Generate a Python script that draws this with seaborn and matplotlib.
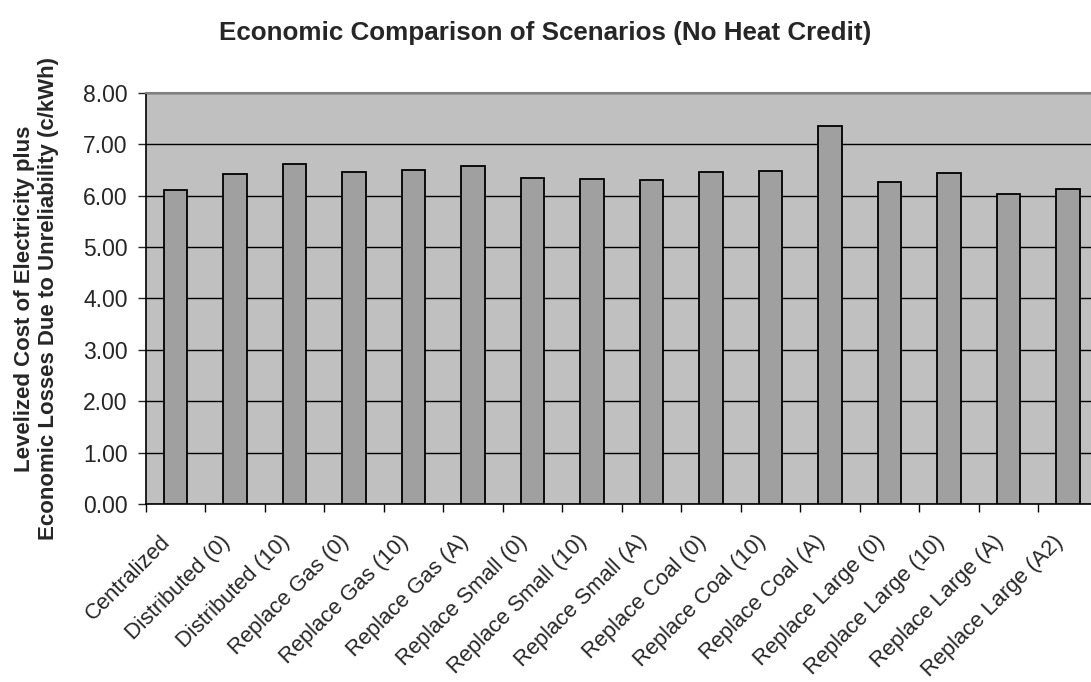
import matplotlib
matplotlib.use("Agg")
import matplotlib.pyplot as plt
from matplotlib.ticker import FixedLocator
from matplotlib.transforms import ScaledTranslation
import seaborn as sns
import pandas as pd
import numpy as np

scenarios = [
    "Centralized", "Distributed (0)", "Distributed (10)",
    "Replace Gas (0)", "Replace Gas (10)", "Replace Gas (A)",
    "Replace Small (0)", "Replace Small (10)", "Replace Small (A)",
    "Replace Coal (0)", "Replace Coal (10)", "Replace Coal (A)",
    "Replace Large (0)", "Replace Large (10)", "Replace Large (A)",
    "Replace Large (A2)",
]
cost = [6.10, 6.42, 6.61, 6.46, 6.49, 6.57, 6.35, 6.33, 6.30,
        6.45, 6.47, 7.35, 6.27, 6.43, 6.03, 6.12]
y_ticks = [0, 1, 2, 3, 4, 5, 6, 7, 8]

df = pd.DataFrame({"Scenario": scenarios, "Cost": cost})

sns.set_style("ticks")
plt.rcParams["font.family"] = ["Liberation Sans", "DejaVu Sans"]

W, H, DPI = 1091, 682, 100
fig = plt.figure(figsize=(W / DPI, H / DPI), dpi=DPI)
left, right, top, bottom = 145.7, 1097.7, 92.7, 504.0
ax = fig.add_axes([left / W, 1 - bottom / H, (right - left) / W, (bottom - top) / H])
ax.set_facecolor("#C0C0C0")

sns.barplot(data=df, x="Scenario", y="Cost", ax=ax, color="#A0A0A0",
            saturation=1, width=0.4, edgecolor="black", linewidth=1.3, zorder=3)

ax.set_xlim(-0.5, len(scenarios) - 0.5)
ax.set_ylim(0, 8)
ax.yaxis.set_major_locator(FixedLocator(y_ticks))
ax.set_yticklabels([f"{v:.2f}" for v in y_ticks])
ax.grid(axis="y", color="black", linewidth=1.0, zorder=1)
ax.set_axisbelow(True)

# x ticks sit at category boundaries, labels at the category centres
ax.set_xticks(np.arange(len(scenarios)))
ax.set_xticklabels(scenarios, rotation=45, ha="right", va="center",
                   rotation_mode="anchor", fontsize=15.8)
ax.tick_params(axis="x", length=0, pad=25)
shift = ScaledTranslation(-8 / DPI, 0, fig.dpi_scale_trans)
for lbl in ax.get_xticklabels():
    lbl.set_transform(lbl.get_transform() + shift)
ax.set_xticks(np.arange(-0.5, len(scenarios), 1), minor=True)
ax.tick_params(axis="x", which="minor", length=6, width=1, color="black", direction="out")
ax.tick_params(axis="y", length=6, width=1, labelsize=16.5, direction="out", pad=7)

ax.spines["top"].set_visible(True)
ax.spines["right"].set_visible(True)
ax.spines["top"].set_color("#808080")
ax.spines["top"].set_linewidth(1.5)
ax.spines["right"].set_color("#808080")
ax.spines["left"].set_color("black")
ax.spines["bottom"].set_color("black")
ax.spines["left"].set_linewidth(1.2)
ax.spines["bottom"].set_linewidth(1.2)

ax.set_xlabel("")
ax.set_ylabel("Levelized Cost of Electricity plus\nEconomic Losses Due to Unreliability (c/kWh)",
              fontsize=16, fontweight="bold", linespacing=1.2)
ax.yaxis.set_label_coords((59 - left) / (right - left), 0.5)

fig.text(0.5, 1 - 33 / H, "Economic Comparison of Scenarios (No Heat Credit)",
         ha="center", va="center", fontsize=18.7, fontweight="bold")

fig.savefig("out.png", dpi=DPI)
